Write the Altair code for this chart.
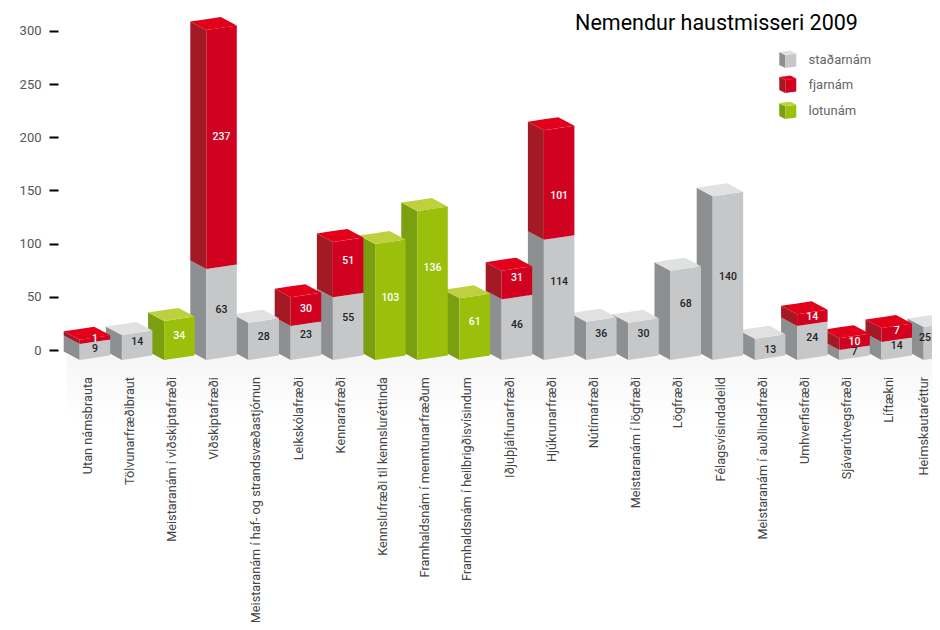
import altair as alt
import pandas as pd

# --- values as labelled in the picture ---
names = ["Utan námsbrauta", "Tölvunarfræðibraut", "Meistaranám í viðskiptafræði", "Viðskiptafræði",
         "Meistaranám í haf- og strandsvæðastjórnun", "Leikskólafræði", "Kennarafræði",
         "Kennslufræði til kennsluréttinda", "Framhaldsnám í menntunarfræðum",
         "Framhaldsnám í heilbrigðisvísindum", "Iðjuþjálfunarfræði", "Hjúkrunarfræði", "Nútímafræði",
         "Meistaranám í lögfræði", "Lögfræði", "Félagsvísindadeild", "Meistaranám í auðlindafræði",
         "Umhverfisfræði", "Sjávarútvegsfræði", "Líftækni", "Heimskautaréttur"]
stadar = [9, 14, 0, 63, 28, 23, 55, 0, 0, 0, 46, 114, 36, 30, 68, 140, 13, 24, 7, 14, 25]
fjar   = [1, 0, 0, 237, 0, 30, 51, 0, 0, 0, 31, 101, 0, 0, 0, 0, 0, 14, 10, 7, 0]
lotu   = [0, 0, 34, 0, 0, 0, 0, 103, 136, 61, 0, 0, 0, 0, 0, 0, 0, 0, 0, 0, 0]

# --- drawn segment heights as read against the axis (the picture is not strictly proportional) ---
stadar_h = [15, 23.5, 0, 85.5, 35, 32, 59, 0, 0, 0, 57, 113, 36, 35, 84, 154, 20, 32, 9.5, 17, 31]
fjar_h   = [4, 0, 0, 224.6, 0, 27, 52, 0, 0, 0, 27, 103, 0, 0, 0, 0, 0, 11, 11, 13, 0]
lotu_h   = [0, 0, 36.7, 0, 0, 0, 0, 109, 140, 58, 0, 0, 0, 0, 0, 0, 0, 0, 0, 0, 0]

# --- heights on the axis at which each printed number sits ---
stadar_at = [1, 7.5, None, 37.6, 12, 14, 30, None, None, None, 23.5, 64, 15, 15, 43, 68.6, 0, 11, -2, 3.8, 11]
fjar_at   = [10.3, None, None, 200, None, 38.5, 83.6, None, None, None, 67.7, 144.7, None, None, None, None, None, 31, 7.5, 18, None]
lotu_at   = [None, None, 13, None, None, None, None, 49, 77, 26, None, None, None, None, None, None, None, None, None, None, None]

legend_names = ["staðarnám", "fjarnám", "lotunám"]
title_text = "Nemendur haustmisseri 2009"
ticks = [0, 50, 100, 150, 200, 250, 300]

FONT = "Roboto"
FACE = {"s": ("#c6c7c9", "#8e8f91", "#e0e1e2"),
        "f": ("#d0021f", "#a31a24", "#e2001a"),
        "l": ("#9bc00c", "#7aa012", "#bdd13f")}

PX_X = 42.2    # px per bar
PX_Y = 1.064   # px per axis unit
X_HI = 20.197
xs = alt.Scale(domain=[-0.514, X_HI], nice=False, zero=False)
ys = alt.Scale(domain=[-255.64, 321.43], nice=False, zero=False)
yax = alt.Axis(values=ticks, domain=False, grid=False, tickColor="#000000", tickWidth=2,
               tickSize=9, labelPadding=8, labelColor="#555555", labelFont=FONT,
               labelFontSize=13, title=None)
W, D = 30.5 / PX_X, 16 / PX_X
BASE = -9.4
R_L, R_R = 8.5 / PX_Y, 4.5 / PX_Y


def cube(x0, base, segs, w=W, d=D, rl=R_L, rr=R_R, pid=""):
    """Polygons for a stack of 3D segments; segs = [(key, height), ...]"""
    rows = []
    z = base
    segs = [s for s in segs if s[1] > 0]
    for n, (k, h) in enumerate(segs):
        front, side, top = FACE[k]
        p = f"{pid}{n}"
        rows += [dict(x=x0 - d, y=z + rl + h, y2=z + rl, c=side, p=p + "s"),
                 dict(x=x0, y=z + h, y2=z, c=side, p=p + "s"),
                 dict(x=x0, y=z + h, y2=z, c=front, p=p + "f"),
                 dict(x=x0 + w, y=z + rr + h, y2=z + rr, c=front, p=p + "f")]
        z += h
        if n == len(segs) - 1:
            ax, ay = x0 - d, z + rl
            bx, by = x0, z
            cx, cy = x0 - d + w, z + rl + rr
            dx, dy = x0 + w, z + rr
            rows += [dict(x=ax, y=ay, y2=ay, c=top, p=p + "t"),
                     dict(x=bx, y=ay + rr * d / w, y2=by, c=top, p=p + "t"),
                     dict(x=cx, y=cy, y2=by + rr * (w - d) / w, c=top, p=p + "t"),
                     dict(x=dx, y=dy, y2=dy, c=top, p=p + "t")]
    return rows


def area_layer(rows):
    return alt.Chart(pd.DataFrame(rows)).mark_area(interpolate="linear", orient="vertical", clip=True).encode(
        x=alt.X("x:Q", scale=xs, axis=None),
        y=alt.Y("y:Q", scale=ys, axis=yax),
        y2="y2:Q",
        color=alt.Color("c:N", scale=None, legend=None),
        detail="p:N",
    )


n = len(names)
# faint floor reflection
fade = alt.Chart(pd.DataFrame({"x": [i - 13 / PX_X for i in range(n)], "x2": [i + W for i in range(n)],
                               "y": [-6.0] * n, "y2": [-66.0] * n})).mark_rect(
    clip=True,
    fill=alt.Gradient(gradient="linear", x1=0, x2=0, y1=0, y2=1,
                      stops=[alt.GradientStop(color="#f6f6f7", offset=0),
                             alt.GradientStop(color="#ffffff", offset=1)])
).encode(x=alt.X("x:Q", scale=xs, axis=None),
         x2="x2:Q",
         y=alt.Y("y:Q", scale=ys, axis=yax),
         y2="y2:Q")

layers = [fade]
for i in range(n - 1, -1, -1):
    segs = [("s", stadar_h[i]), ("f", fjar_h[i]), ("l", lotu_h[i])]
    layers.append(area_layer(cube(i, BASE, segs, pid=f"b{i}")))

# printed numbers
val_rows = []
for i in range(n):
    for v, at, col in [(stadar[i], stadar_at[i], "#222222"), (fjar[i], fjar_at[i], "#ffffff"),
                       (lotu[i], lotu_at[i], "#ffffff")]:
        if v:
            val_rows.append(dict(x=min(i + W / 2, X_HI - 7 / PX_X), y=at, t=str(v), c=col))
layers.append(alt.Chart(pd.DataFrame(val_rows)).mark_text(font=FONT, fontSize=10.5, fontWeight=500, clip=True).encode(
    x=alt.X("x:Q", scale=xs, axis=None), y=alt.Y("y:Q", scale=ys, axis=yax),
    text="t:N", color=alt.Color("c:N", scale=None, legend=None)))

# category labels
cat_df = pd.DataFrame({"x": [min(i + 8 / PX_X, X_HI - 8 / PX_X) for i in range(n)], "y": [-25.4] * n, "t": names})
layers.append(alt.Chart(cat_df).mark_text(font=FONT, fontSize=12.7, angle=270, align="right", baseline="middle",
                                          color="#444444", clip=True).encode(
    x=alt.X("x:Q", scale=xs, axis=None), y=alt.Y("y:Q", scale=ys, axis=yax), text="t:N"))

# title
layers.append(alt.Chart(pd.DataFrame({"x": [11.74], "y": [306.0], "t": [title_text]})).mark_text(
    font=FONT, fontSize=21.5, fontWeight=400, align="left", baseline="middle", color="#000000").encode(
    x=alt.X("x:Q", scale=xs, axis=None), y=alt.Y("y:Q", scale=ys, axis=yax), text="t:N"))

# legend
leg_x = 16.72
leg_y = [265.0, 241.5, 217.0]
for key, ly in zip("sfl", leg_y):
    layers.append(area_layer(cube(leg_x, ly, [(key, 12.2)], w=11 / PX_X, d=6 / PX_X, rl=3 / PX_Y, rr=1.5 / PX_Y,
                                  pid="leg" + key)))
layers.append(alt.Chart(pd.DataFrame({"x": [17.27] * 3, "y": [v + 7.6 for v in leg_y], "t": legend_names})).mark_text(
    font=FONT, fontSize=13, align="left", baseline="middle", color="#666666").encode(
    x=alt.X("x:Q", scale=xs, axis=None), y=alt.Y("y:Q", scale=ys, axis=yax), text="t:N"))

chart = alt.layer(*layers).properties(
    width=874, height=614,
    padding={"left": 50, "top": 0, "right": 0, "bottom": 0},
    autosize=alt.AutoSizeParams(type="none"),
).configure_view(stroke=None)

chart.save("out.html", embed_options={"renderer": "svg", "actions": False})
